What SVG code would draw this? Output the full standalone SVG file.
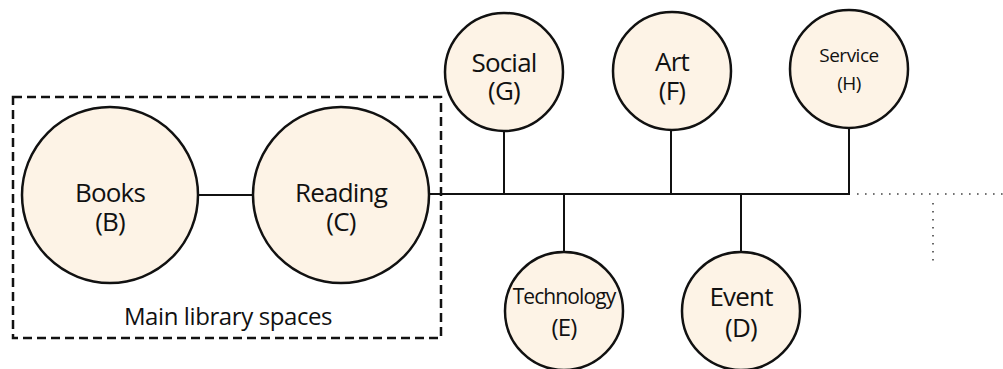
<svg xmlns="http://www.w3.org/2000/svg" width="1003" height="369" viewBox="0 0 1003 369">
<style>
.node{fill:#fdf3e6;stroke:#111;stroke-width:2.5}
.lbl{font-family:"Open Sans","Noto Sans",sans-serif;fill:#111;text-anchor:middle;letter-spacing:-0.8px}
.edge{stroke:#111;stroke-width:2;fill:none}
.dot{stroke:#444;stroke-width:1.6;fill:none;stroke-dasharray:1.6 6.4}
</style>
<rect width="1003" height="369" fill="#fff"/>
<g id="connectors">
<line class="edge" x1="198" y1="195" x2="253" y2="195"/>
<line class="edge" x1="429" y1="194" x2="850" y2="194"/>
<line class="edge" x1="504" y1="131" x2="504" y2="194"/>
<line class="edge" x1="671" y1="131" x2="671" y2="194"/>
<line class="edge" x1="849" y1="128" x2="849" y2="194"/>
<line class="edge" x1="564" y1="194" x2="564" y2="252"/>
<line class="edge" x1="741" y1="194" x2="741" y2="252"/>
<line class="dot" x1="857" y1="194" x2="1003" y2="194"/>
<line class="dot" x1="933" y1="203" x2="933" y2="265"/>
</g>
<g id="group-main">
<rect x="13" y="97" width="428" height="241" fill="none" stroke="#111" stroke-width="2.5" stroke-dasharray="9 5"/>
<text class="lbl" x="228" y="325" font-size="24" style="letter-spacing:-0.4px">Main library spaces</text>
</g>
<g id="node-B">
<circle class="node" cx="110" cy="195" r="88"/>
<text class="lbl" x="110" y="202" font-size="26">Books</text>
<text class="lbl" x="110" y="231" font-size="26">(B)</text>
</g>
<g id="node-C">
<circle class="node" cx="341" cy="195" r="88"/>
<text class="lbl" x="341" y="202" font-size="26">Reading</text>
<text class="lbl" x="341" y="231" font-size="26">(C)</text>
</g>
<g id="node-G">
<circle class="node" cx="504" cy="72" r="59"/>
<text class="lbl" x="504" y="72" font-size="26">Social</text>
<text class="lbl" x="504" y="100" font-size="26">(G)</text>
</g>
<g id="node-F">
<circle class="node" cx="672" cy="71" r="59"/>
<text class="lbl" x="672" y="71" font-size="26">Art</text>
<text class="lbl" x="672" y="100" font-size="26">(F)</text>
</g>
<g id="node-H">
<circle class="node" cx="849" cy="69" r="59"/>
<text class="lbl" x="849" y="62" font-size="19" style="letter-spacing:-0.5px">Service</text>
<text class="lbl" x="849" y="90" font-size="19" style="letter-spacing:-0.5px">(H)</text>
</g>
<g id="node-E">
<circle class="node" cx="564" cy="311" r="59"/>
<text class="lbl" x="564" y="304" font-size="21" style="letter-spacing:-0.9px">Technology</text>
<text class="lbl" x="564" y="336" font-size="24">(E)</text>
</g>
<g id="node-D">
<circle class="node" cx="741" cy="311" r="59"/>
<text class="lbl" x="741" y="306" font-size="26">Event</text>
<text class="lbl" x="741" y="337" font-size="26">(D)</text>
</g>
</svg>
